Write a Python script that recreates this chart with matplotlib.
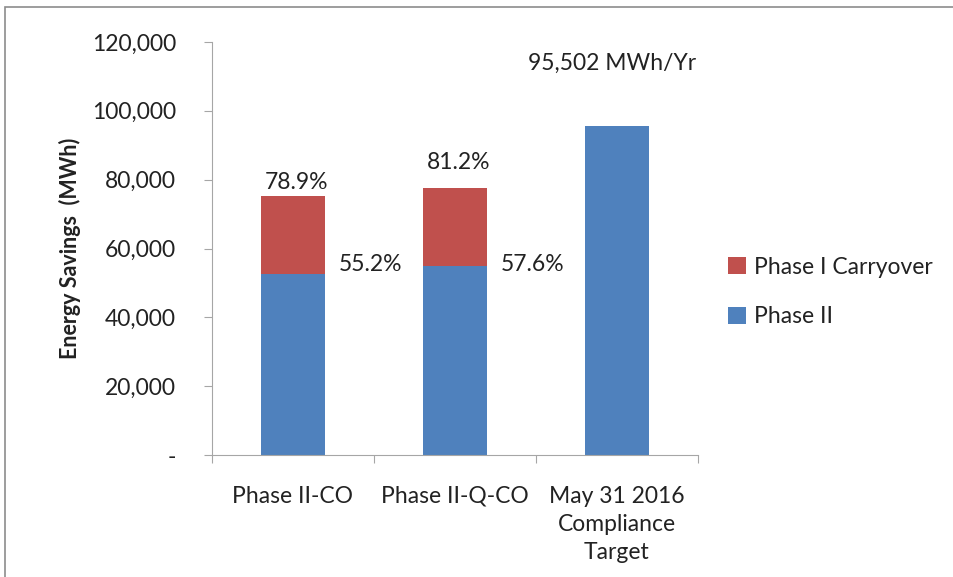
import numpy as np
import matplotlib.pyplot as plt
from matplotlib.patches import Rectangle
from matplotlib.ticker import FuncFormatter

plt.rcParams['font.family'] = ['Lato', 'DejaVu Sans']

categories = ['Phase II-CO', 'Phase II-Q-CO', 'May 31 2016\nCompliance\nTarget']
phase2 = [52717, 55009, 95502]
carryover = [22634, 22539, 0]
pct_total = ['78.9%', '81.2%', None]
pct_phase2 = ['55.2%', '57.6%', None]
target_label = '95,502 MWh/Yr'

blue = '#4F81BD'
red = '#C0504D'
grey = '#A6A6A6'
txt = '#222222'


def fmt(v, pos):
    if v == 0:
        return '-'
    return '{:,.0f}'.format(v)


def main():
    fig = plt.figure(figsize=(9.54, 5.77), dpi=100)
    ax = fig.add_axes([212 / 954, 1 - 455 / 577, (698 - 212) / 954, (455 - 42) / 577])

    x = np.arange(len(categories))
    w = 0.39
    ax.bar(x, phase2, w, color=blue, label='Phase II', zorder=2)
    ax.bar(x, carryover, w, bottom=phase2, color=red, label='Phase I Carryover', zorder=2)

    # percentage labels
    totals = np.array(phase2) + np.array(carryover)
    offs = [3800, 7500]
    for i in range(2):
        ax.text(x[i] + 0.02, totals[i] + offs[i], pct_total[i], ha='center', va='center', fontsize=16.5, color=txt)
        ax.text(x[i] + 0.48, 55400, pct_phase2[i], ha='center', va='center', fontsize=16.5, color=txt)
    ax.text(x[2] - 0.03, 113900, target_label, ha='center', va='center', fontsize=16.5, color=txt)

    ax.set_xlim(-0.5, 2.5)
    ax.set_ylim(0, 120000)
    ax.set_yticks(np.arange(0, 120001, 20000))
    ax.yaxis.set_major_formatter(FuncFormatter(fmt))

    ax.set_xticks([-0.5, 0.5, 1.5, 2.5])
    ax.set_xticklabels([])
    ax.set_xticks(x, minor=True)
    ax.set_xticklabels(categories, minor=True, fontsize=16.5, color=txt, linespacing=1.42)
    ax.tick_params(axis='x', which='minor', length=0, pad=22)
    ax.tick_params(axis='x', which='major', length=6, color=grey)
    ax.tick_params(axis='y', length=6, color=grey, labelsize=16.5, labelcolor=txt, pad=20)

    for s in ['top', 'right']:
        ax.spines[s].set_visible(False)
    for s in ['left', 'bottom']:
        ax.spines[s].set_color(grey)

    ax.set_ylabel('Energy Savings  (MWh)', fontsize=15.5, fontweight='bold', color=txt, labelpad=8)

    h, l = ax.get_legend_handles_labels()
    ax.legend(h[::-1], l[::-1], loc='center left', bbox_to_anchor=(1.02, 0.395), frameon=False,
              fontsize=16.5, handlelength=0.75, handleheight=0.75, labelspacing=1.25, handletextpad=0.35,
              labelcolor=txt)

    fig.patches.append(Rectangle((5 / 954, -0.05), 1.0, 1 - 7 / 577 + 0.05, transform=fig.transFigure,
                                 fill=False, edgecolor='#8C8C8C', linewidth=1.2))

    fig.savefig('out.png', dpi=100)


if __name__ == "__main__":
    main()
